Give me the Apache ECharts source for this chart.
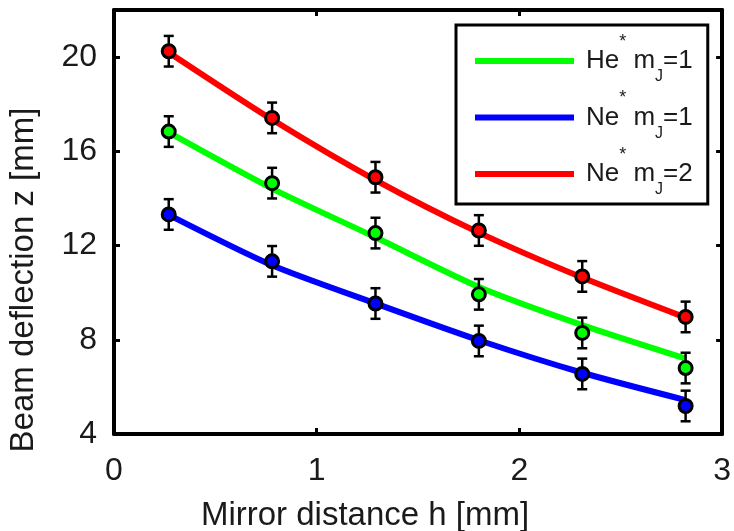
<!DOCTYPE html>
<html>
<head>
<meta charset="utf-8">
<script src="https://cdn.jsdelivr.net/npm/echarts@6/dist/echarts.min.js"></script>
<style>
html,body{margin:0;padding:0;background:#fff;}
#chart{width:734px;height:531px;}
</style>
</head>
<body>
<div id="chart"></div>
<script>
// ---- data ----
const mirrorDistance = [0.27, 0.78, 1.29, 1.80, 2.31, 2.82];
const heM1 = [16.84, 14.65, 12.53, 9.93, 8.29, 6.80];
const neM1 = [13.32, 11.33, 9.54, 7.95, 6.55, 5.19];
const neM2 = [20.25, 17.42, 14.90, 12.64, 10.69, 8.97];
const heM1Fit = [16.80, 14.42, 12.35, 10.24, 8.62, 7.20];
const neM1Fit = [13.30, 11.16, 9.54, 7.98, 6.60, 5.44];
const neM2Fit = [20.20, 17.35, 14.78, 12.55, 10.64, 8.94];
const heM1Err = [0.65, 0.65, 0.65, 0.65, 0.65, 0.65];
const neM1Err = [0.65, 0.65, 0.65, 0.65, 0.65, 0.65];
const neM2Err = [0.65, 0.65, 0.65, 0.65, 0.65, 0.65];
const elements = ['He', 'Ne', 'Ne'];
const mJ = [1, 1, 2];
const seriesNames = ['He* mJ=1', 'Ne* mJ=1', 'Ne* mJ=2'];
const colors = ['#00ff00', '#0000ff', '#ff0000'];
const xTicks = [0, 1, 2, 3];
const yTicks = [4, 8, 12, 16, 20];
const xTitle = 'Mirror distance h [mm]';
const yTitle = 'Beam deflection z [mm]';

const measured = [heM1, neM1, neM2];
const fits = [heM1Fit, neM1Fit, neM2Fit];
const errs = [heM1Err, neM1Err, neM2Err];

const FONT = '"Liberation Sans", Arial, sans-serif';
const TXT = '#1a1a1a';

const chart = echarts.init(document.getElementById('chart'), null, {renderer: 'canvas'});

const lineSeries = fits.map((f, i) => ({
  name: seriesNames[i],
  type: 'line',
  xAxisIndex: 0, yAxisIndex: 0,
  data: mirrorDistance.map((x, k) => [x, f[k]]),
  smooth: 0.25,
  showSymbol: false,
  symbol: 'none',
  lineStyle: {color: colors[i], width: 6},
  itemStyle: {color: colors[i]},
  z: 2,
  silent: true
}));

const errSeries = measured.map((m, i) => ({
  name: seriesNames[i] + ' err',
  type: 'custom',
  xAxisIndex: 0, yAxisIndex: 0,
  data: mirrorDistance.map((x, k) => [x, m[k], errs[i][k]]),
  renderItem: function (params, api) {
    const x = api.value(0), y = api.value(1), e = api.value(2);
    const top = api.coord([x, y + e]);
    const bot = api.coord([x, y - e]);
    const hw = 5;
    const st = {stroke: '#000', lineWidth: 2.5};
    return {
      type: 'group',
      children: [
        {type: 'line', shape: {x1: top[0], y1: top[1], x2: bot[0], y2: bot[1]}, style: st},
        {type: 'line', shape: {x1: top[0] - hw, y1: top[1], x2: top[0] + hw, y2: top[1]}, style: st},
        {type: 'line', shape: {x1: bot[0] - hw, y1: bot[1], x2: bot[0] + hw, y2: bot[1]}, style: st}
      ]
    };
  },
  z: 3,
  silent: true
}));

const pointSeries = measured.map((m, i) => ({
  name: seriesNames[i] + ' data',
  type: 'scatter',
  xAxisIndex: 0, yAxisIndex: 0,
  data: mirrorDistance.map((x, k) => [x, m[k]]),
  symbol: 'circle',
  symbolSize: 13,
  itemStyle: {color: colors[i], borderColor: '#000', borderWidth: 3, opacity: 1},
  z: 4,
  silent: true
}));

const axisLineStyle = {show: true, onZero: false, lineStyle: {color: '#000', width: 4}};
const tickStyle = {show: true, inside: true, length: 6, lineStyle: {color: '#000', width: 3}};

const option = {
  animation: false,
  backgroundColor: '#fff',
  grid: {left: 114, right: 10, top: 10, bottom: 97, containLabel: false},
  xAxis: [
    {
      type: 'value', position: 'bottom', min: 0, max: 3, interval: 1,
      axisLine: axisLineStyle, axisTick: tickStyle, splitLine: {show: false},
      axisLabel: {
        fontSize: 32, fontFamily: FONT, color: TXT, margin: 21,
        formatter: v => xTicks.includes(v) ? String(v) : ''
      }
    },
    {
      type: 'value', position: 'top', min: 0, max: 3, interval: 1,
      axisLine: axisLineStyle, axisTick: tickStyle, splitLine: {show: false},
      axisLabel: {show: false}
    }
  ],
  yAxis: [
    {
      type: 'value', position: 'left', min: 4, max: 22, interval: 4,
      axisLine: axisLineStyle, axisTick: tickStyle, splitLine: {show: false},
      axisLabel: {
        fontSize: 32, fontFamily: FONT, color: TXT, margin: 17, padding: [7, 0, 0, 0],
        formatter: v => yTicks.includes(v) ? String(v) : ''
      }
    },
    {
      type: 'value', position: 'right', min: 4, max: 22, interval: 4,
      axisLine: axisLineStyle, axisTick: tickStyle, splitLine: {show: false},
      axisLabel: {show: false}
    }
  ],
  legend: {
    data: seriesNames,
    orient: 'vertical',
    left: 456, top: 25,
    padding: [8, 15, 6, 19],
    itemGap: 4.5,
    itemWidth: 99, itemHeight: 6,
    icon: 'rect',
    selectedMode: false,
    backgroundColor: '#fff',
    borderColor: '#000', borderWidth: 3,
    formatter: function (name) {
      const i = seriesNames.indexOf(name);
      return '{b|' + elements[i] + '}{sup|*}{b| m}{sub|J}{b|=' + mJ[i] + '}';
    },
    textStyle: {
      color: TXT, fontFamily: FONT, fontSize: 26, padding: [0, 0, 0, 7],
      rich: {
        b: {fontSize: 26, fontFamily: FONT, color: TXT, lineHeight: 48, verticalAlign: 'middle'},
        sup: {fontSize: 18, fontFamily: FONT, color: TXT, lineHeight: 14, height: 10, verticalAlign: 'top'},
        sub: {fontSize: 16, fontFamily: FONT, color: TXT, lineHeight: 12, height: 16, verticalAlign: 'bottom'}
      }
    }
  },
  graphic: [
    {
      type: 'text', x: 365, y: 516,
      style: {text: xTitle, fontSize: 33, fontFamily: FONT, fill: TXT, textAlign: 'center', textVerticalAlign: 'middle'}
    },
    {
      type: 'text', x: 24, y: 280, rotation: Math.PI / 2,
      style: {text: yTitle, fontSize: 33, fontFamily: FONT, fill: TXT, textAlign: 'center', textVerticalAlign: 'middle'}
    }
  ],
  series: [...lineSeries, ...errSeries, ...pointSeries]
};

chart.setOption(option);
</script>
</body>
</html>
